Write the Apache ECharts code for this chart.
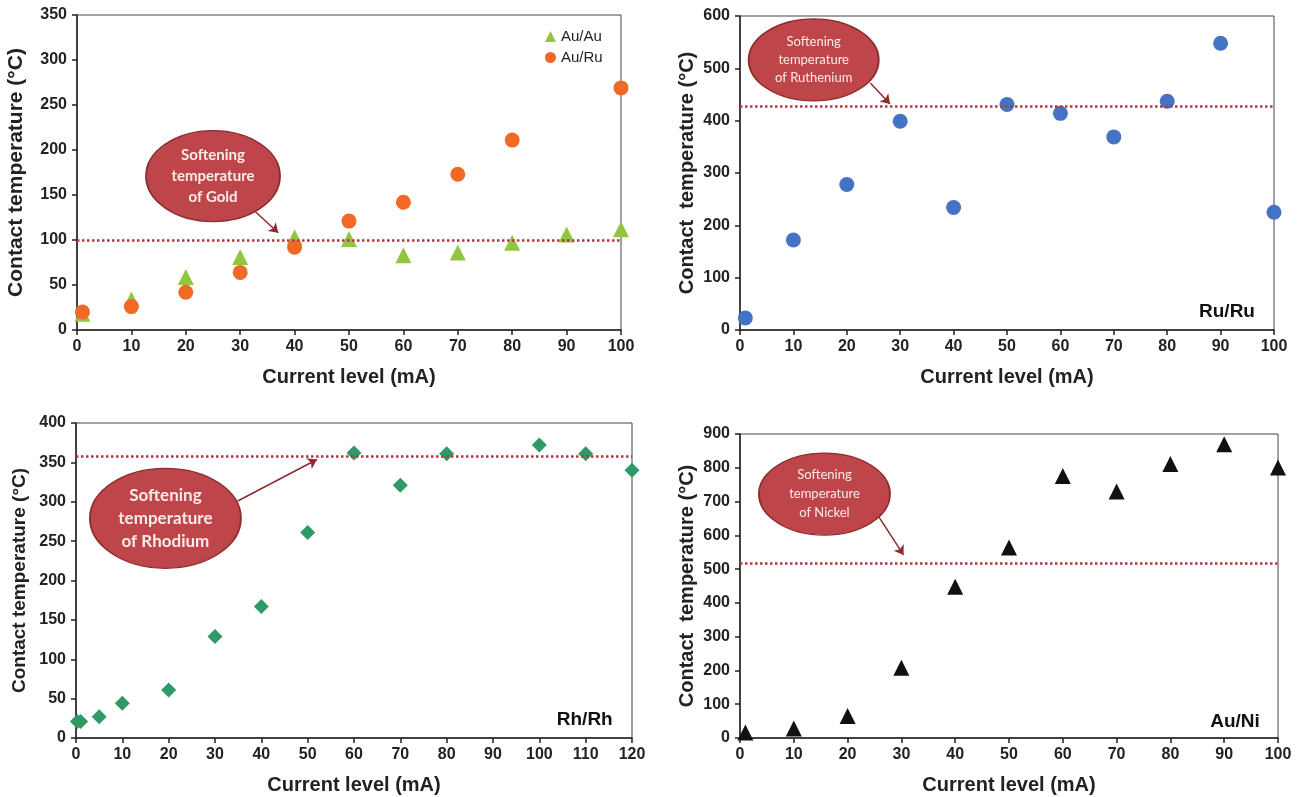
<!DOCTYPE html>
<html>
<head>
<meta charset="utf-8">
<title>Contact temperature vs current level</title>
<script src="https://cdn.jsdelivr.net/npm/echarts@6/dist/echarts.min.js"></script>
<style>
html, body { margin: 0; padding: 0; background: #fff; }
#main { width: 1309px; height: 797px; }
</style>
</head>
<body>
<div id="main"></div>
<script>
// current levels (mA)
var current = [1, 10, 20, 30, 40, 50, 60, 70, 80, 90, 100];
var currentAuRu = [1, 10, 20, 30, 40, 50, 60, 70, 80, 100];
var currentRh = [0.3, 1, 5, 10, 20, 30, 40, 50, 60, 70, 80, 100, 110, 120];

// contact temperatures (°C)
var auAuTemp = [18, 34, 59, 81, 103, 101, 83, 86, 97, 106, 112];
var auRuTemp = [20, 26, 42, 64, 92, 121, 142, 173, 211, 269];
var ruRuTemp = [23, 172, 278, 399, 234, 431, 414, 369, 437, 548, 225];
var rhRhTemp = [21, 21, 27, 44, 61, 129, 167, 261, 362, 321, 361, 372, 361, 340];
var auNiTemp = [16, 28, 65, 208, 448, 564, 776, 730, 811, 870, 801];

// softening temperatures (dotted lines)
var softGold = 100;
var softRuthenium = 427;
var softRhodium = 358;
var softNickel = 517;

var font = "'Liberation Sans', Arial, sans-serif";
var calloutFont = "Lato, 'Open Sans', sans-serif";
var ellipse = 'path://M0,50A50,50,0,1,1,100,50A50,50,0,1,1,0,50Z';

function pairs(xs, ys) {
	return xs.map(function(x, i) { return [x, ys[i]]; });
}

function xAx(idx, max, gap) {
	return {
		gridIndex: idx, type: 'value', min: 0, max: max, interval: 10,
		name: 'Current level (mA)', nameLocation: 'middle', nameGap: gap,
		nameTextStyle: { fontFamily: font, fontWeight: 'bold', fontSize: 20, color: '#222' },
		axisLine: { show: true, onZero: false, lineStyle: { color: '#222', width: 1.5 } },
		axisTick: { show: true, inside: false, length: 5, lineStyle: { color: '#222', width: 1.5 } },
		axisLabel: { fontFamily: font, fontWeight: 'bold', fontSize: 16, color: '#222', margin: 9, showMaxLabel: true, showMinLabel: true },
		splitLine: { show: false }
	};
}

function yAx(idx, max, step, gap, title, size) {
	return {
		gridIndex: idx, type: 'value', min: 0, max: max, interval: step,
		name: title, nameLocation: 'middle', nameGap: gap,
		nameTextStyle: { fontFamily: font, fontWeight: 'bold', fontSize: size, color: '#222' },
		axisLine: { show: true, onZero: false, lineStyle: { color: '#222', width: 1.5 } },
		axisTick: { show: true, inside: false, length: 5, lineStyle: { color: '#222', width: 1.5 } },
		axisLabel: { fontFamily: font, fontWeight: 'bold', fontSize: 16, color: '#222', margin: 10 },
		splitLine: { show: false }
	};
}

function softLine(value) {
	return {
		silent: true, symbol: ['none', 'none'],
		lineStyle: { color: '#b23a3f', width: 2.5, type: 'dotted' },
		label: { show: false },
		data: [{ yAxis: value }]
	};
}

// callout ellipse + arrow + panel tag, placed in data coordinates
function callout(idx, c, size, text, fs, lh, weight, from, to, tag) {
	var points = [{
		coord: c, symbol: ellipse, symbolSize: size,
		itemStyle: { color: '#be464a', borderColor: '#8c2c30', borderWidth: 1.5 },
		label: { show: true, position: 'inside', formatter: text, color: '#fbeaea', fontFamily: calloutFont, fontWeight: weight, fontSize: fs, lineHeight: lh }
	}];
	if (tag) {
		points.push({
			coord: tag.at, symbol: 'rect', symbolSize: 1,
			itemStyle: { color: 'rgba(0,0,0,0)' },
			label: { show: true, position: 'inside', formatter: tag.text, color: '#111', fontFamily: font, fontWeight: 'bold', fontSize: 19 }
		});
	}
	return {
		type: 'scatter', xAxisIndex: idx, yAxisIndex: idx, data: [], silent: true, z: 5,
		markPoint: { silent: true, data: points, animation: false },
		markLine: {
			silent: true, symbol: ['none', 'arrow'], symbolSize: 9, animation: false,
			lineStyle: { color: '#8c2c30', width: 1.5, type: 'solid' },
			label: { show: false },
			data: [[{ coord: from }, { coord: to }]]
		}
	};
}

var myChart = echarts.init(document.getElementById('main'));

option = {
	backgroundColor: '#fff',
	animation: false,
	grid: [
		{ left: 77, top: 15, width: 544, height: 315, show: true, borderColor: '#444', borderWidth: 1 },
		{ left: 740, top: 16, width: 534, height: 314, show: true, borderColor: '#444', borderWidth: 1 },
		{ left: 76, top: 423, width: 556, height: 315, show: true, borderColor: '#444', borderWidth: 1 },
		{ left: 740, top: 434, width: 538, height: 304, show: true, borderColor: '#444', borderWidth: 1 }
	],
	legend: {
		data: ['Au/Au', 'Au/Ru'], orient: 'vertical', left: 540, top: 24,
		itemWidth: 11, itemHeight: 11, itemGap: 6,
		textStyle: { fontFamily: font, fontSize: 15, color: '#222' }
	},
	xAxis: [xAx(0, 100, 37), xAx(1, 100, 37), xAx(2, 120, 37), xAx(3, 100, 37)],
	yAxis: [
		yAx(0, 350, 50, 50, 'Contact temperature (°C)', 21),
		yAx(1, 600, 100, 43, 'Contact  temperature (°C)', 20),
		yAx(2, 400, 50, 47, 'Contact temperature (°C)', 19),
		yAx(3, 900, 100, 43, 'Contact  temperature (°C)', 20)
	],
	series: [
		{
			name: 'Au/Au', type: 'scatter', xAxisIndex: 0, yAxisIndex: 0, clip: false,
			symbol: 'triangle', symbolSize: 16, itemStyle: { color: '#92c640', opacity: 1 },
			data: pairs(current, auAuTemp), markLine: softLine(softGold)
		},
		{
			name: 'Au/Ru', type: 'scatter', xAxisIndex: 0, yAxisIndex: 0, clip: false,
			symbol: 'circle', symbolSize: 15, itemStyle: { color: '#f06a26', opacity: 1 },
			data: pairs(currentAuRu, auRuTemp)
		},
		callout(0, [25, 171], [134, 91], 'Softening\ntemperature\nof Gold', 15, 21, 'bold', [32.7, 132], [37, 108]),
		{
			name: 'Ru/Ru', type: 'scatter', xAxisIndex: 1, yAxisIndex: 1, clip: false,
			symbol: 'circle', symbolSize: 15, itemStyle: { color: '#4472c4', opacity: 1 },
			data: pairs(current, ruRuTemp), markLine: softLine(softRuthenium)
		},
		callout(1, [13.8, 516], [130, 82], 'Softening\ntemperature\nof Ruthenium', 13, 18, 'normal', [24.4, 472], [28.1, 432],
			{ at: [91.2, 34], text: 'Ru/Ru' }),
		{
			name: 'Rh/Rh', type: 'scatter', xAxisIndex: 2, yAxisIndex: 2, clip: false,
			symbol: 'diamond', symbolSize: 15, itemStyle: { color: '#2f9a68', opacity: 1 },
			data: pairs(currentRh, rhRhTemp), markLine: softLine(softRhodium)
		},
		callout(2, [19.3, 279], [151, 100], 'Softening\ntemperature\nof Rhodium', 17, 23, 'bold', [34.9, 301], [52, 353.7],
			{ at: [109.8, 23], text: 'Rh/Rh' }),
		{
			name: 'Au/Ni', type: 'scatter', xAxisIndex: 3, yAxisIndex: 3, clip: false,
			symbol: 'triangle', symbolSize: 16, itemStyle: { color: '#111', opacity: 1 },
			data: pairs(current, auNiTemp), markLine: softLine(softNickel)
		},
		callout(3, [15.7, 722], [131, 82], 'Softening\ntemperature\nof Nickel', 13, 19, 'normal', [25.6, 660], [30.4, 542],
			{ at: [92, 48], text: 'Au/Ni' })
	]
};

myChart.setOption(option);
</script>
</body>
</html>
